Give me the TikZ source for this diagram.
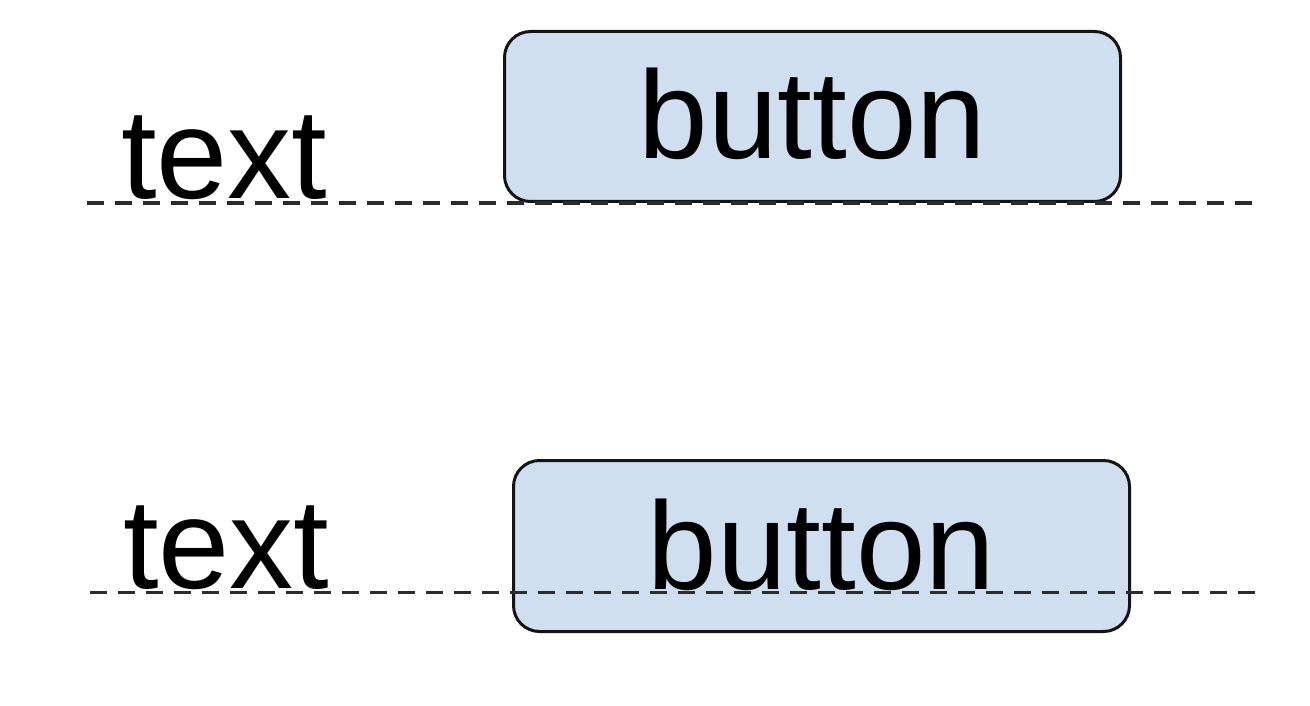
\documentclass[tikz,border=0pt]{standalone}
\usepackage{fontspec}
\setmainfont{Liberation Sans}
\definecolor{btnfill}{RGB}{207,223,240}
\definecolor{ink}{RGB}{20,20,20}
\tikzset{
  label text/.style={inner sep=0pt, anchor=base west, font=\fontsize{128}{150}\selectfont},
  btn/.style={draw=ink, line width=3pt, fill=btnfill, rounded corners=26pt,
    minimum width=616pt, inner xsep=0pt, inner ysep=0pt, anchor=north west,
    font=\fontsize{125}{150}\selectfont},
  guide/.style={draw=ink!90, line width=3.2pt, dash pattern=on 17pt off 11pt}
}
\begin{document}
\begin{tikzpicture}[x=1pt,y=-1pt]
  \useasboundingbox (0,0) rectangle (1310,706);

  % upper row: button sits on the baseline
  \node[label text] (t1) at (121,198) {text};
  \node[btn, text height=127pt, text depth=43pt] (b1) at (503,30) {button};
  \coordinate (g1s) at (87,203);
  \coordinate (g1e) at (1259,203);
  \draw[guide] (g1s) -- (g1e);

  % lower row: button centred on the baseline
  \node[label text] (t2) at (123,588) {text};
  \node[btn, text height=129pt, text depth=42pt] (b2) at (512,459) {button};
  \coordinate (g2s) at (90,592.5);
  \coordinate (g2e) at (1260,592.5);
  \draw[guide] (g2s) -- (g2e);
\end{tikzpicture}
\end{document}
